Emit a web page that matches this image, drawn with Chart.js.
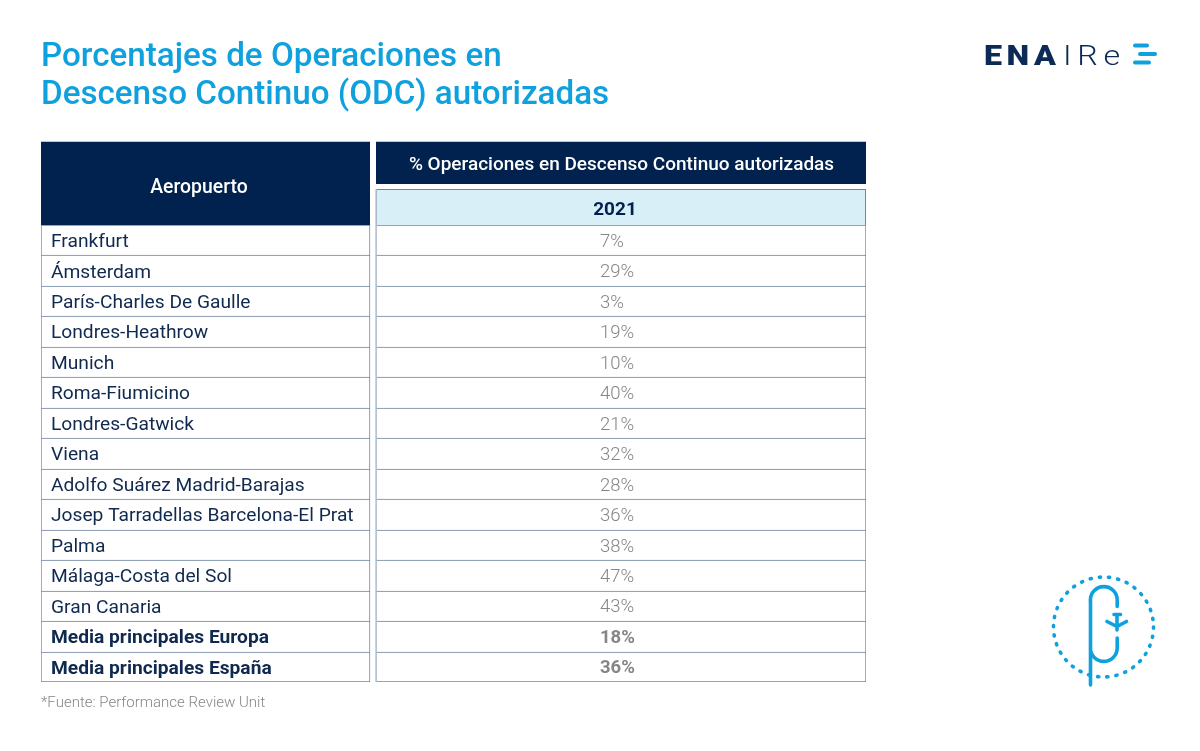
<!DOCTYPE html>
<html lang="es">
<head>
<meta charset="utf-8">
<title>Porcentajes de Operaciones en Descenso Continuo (ODC) autorizadas</title>
<script src="https://cdn.jsdelivr.net/npm/chart.js@4"></script>
<style>html,body{margin:0;padding:0;background:#fff}canvas{display:block}</style>
</head>
<body>
<canvas id="c" width="1200" height="751"></canvas>
<script>
const titleLines = ['Porcentajes de Operaciones en', 'Descenso Continuo (ODC) autorizadas'];
const airports = ['Frankfurt','Ámsterdam','París-Charles De Gaulle','Londres-Heathrow','Munich','Roma-Fiumicino','Londres-Gatwick','Viena','Adolfo Suárez Madrid-Barajas','Josep Tarradellas Barcelona-El Prat','Palma','Málaga-Costa del Sol','Gran Canaria','Media principales Europa','Media principales España'];
const percentages = [7,29,3,19,10,40,21,32,28,36,38,47,43,18,36];
const boldRows = ['Media principales Europa','Media principales España'];
const headerAirport = 'Aeropuerto';
const headerMeasure = '% Operaciones en Descenso Continuo autorizadas';
const headerYear = '2021';
const footnote = '*Fuente: Performance Review Unit';

const FONT = 'Roboto';
const NAVY = '#01224e', BLUE = '#0fa0de', LINE = '#6f86a0', GREY = '#868686';
const COL_A = [0, 329], COL_B = [335, 825];

const decor = {
  id: 'decor',
  afterDatasetsUpdate(chart) {
    // snap cell edges to whole pixels so the rules stay crisp
    chart.data.datasets.forEach((_, d) => chart.getDatasetMeta(d).data.forEach(el => {
      const t = Math.round(el.y - el.height / 2), b = Math.round(el.y + el.height / 2);
      el.y = (t + b) / 2; el.height = b - t;
    }));
  },
  beforeDatasetsDraw(chart) {
    const {ctx, scales:{x}, chartArea:{top}} = chart;
    ctx.save();
    const xa0 = x.getPixelForValue(COL_A[0]), xa1 = x.getPixelForValue(COL_A[1]);
    const xb0 = x.getPixelForValue(COL_B[0]), xb1 = x.getPixelForValue(COL_B[1]);
    ctx.fillStyle = '#bcc8d8';
    ctx.fillRect(xa0, top - 84, xa1 - xa0, 1);
    ctx.fillRect(xb0, top - 84, xb1 - xb0, 1);
    ctx.fillStyle = NAVY;
    ctx.fillRect(xa0, top - 83, xa1 - xa0, 83);
    ctx.fillRect(xb0, top - 83, xb1 - xb0, 42);
    ctx.fillStyle = '#d8eff8';
    ctx.fillRect(xb0, top - 36, xb1 - xb0, 36);
    ctx.strokeStyle = LINE; ctx.lineWidth = 1;
    ctx.strokeRect(xb0 + .5, top - 35.5, xb1 - xb0 - 1, 36);
    ctx.textBaseline = 'middle'; ctx.textAlign = 'center';
    ctx.fillStyle = '#fff';
    ctx.font = '500 19.4px ' + FONT;
    ctx.fillText(headerAirport, x.getPixelForValue(158), top - 37);
    ctx.font = '500 19px ' + FONT;
    ctx.fillText(headerMeasure, x.getPixelForValue(580.5), top - 60);
    ctx.fillStyle = NAVY;
    ctx.font = '700 19px ' + FONT;
    ctx.fillText(headerYear, x.getPixelForValue(574), top - 14.5);
    ctx.restore();
  },
  afterDatasetsDraw(chart) {
    const {ctx, scales:{x, y}, chartArea:{top, bottom}} = chart;
    ctx.save();
    ctx.textBaseline = 'middle'; ctx.textAlign = 'left';
    percentages.forEach((v, i) => {
      const bold = boldRows.includes(airports[i]);
      ctx.fillStyle = GREY;
      ctx.font = (bold ? '700' : '300') + ' 18.5px ' + FONT;
      ctx.fillText(v + '%', x.getPixelForValue(559), y.getPixelForValue(i) + 2);
    });
    // lighter left edge of the value column
    ctx.strokeStyle = '#bcc8d8'; ctx.lineWidth = 1.5;
    const lx = x.getPixelForValue(COL_B[0]);
    ctx.beginPath(); ctx.moveTo(lx, top - 36); ctx.lineTo(lx, bottom); ctx.stroke();
    // footnote
    ctx.fillStyle = GREY;
    ctx.font = '300 15px ' + FONT;
    ctx.fillText(footnote, 41, 703);
    // logo
    ctx.fillStyle = '#0b2a55';
    ctx.textBaseline = 'alphabetic';
    ctx.save();
    ctx.translate(984, 65); ctx.scale(1.15, 1);
    ctx.letterSpacing = '4px';
    ctx.font = '900 28px ' + FONT;
    ctx.fillText('ENA', 0, 0);
    ctx.restore();
    ctx.save();
    ctx.translate(1063, 65); ctx.scale(1.15, 1);
    ctx.letterSpacing = '5px';
    ctx.font = '300 28px ' + FONT;
    ctx.fillText('IRe', 0, 0);
    ctx.restore();
    ctx.strokeStyle = BLUE; ctx.lineCap = 'round'; ctx.lineWidth = 4;
    [[1135,1147,45.5],[1140,1155,54],[1135,1149,62.5]].forEach(([a,b,yy]) => {
      ctx.beginPath(); ctx.moveTo(a,yy); ctx.lineTo(b,yy); ctx.stroke();
    });
    // emblem
    ctx.lineWidth = 3.6;
    ctx.beginPath();
    ctx.setLineDash([1.2, 8.04]);
    ctx.arc(1103.5, 627, 50, 0, Math.PI * 2); ctx.stroke();
    ctx.setLineDash([]);
    ctx.beginPath();
    ctx.moveTo(1090.5, 685); ctx.lineTo(1090.5, 600);
    ctx.arc(1103.8, 600, 13.4, Math.PI, 0);
    ctx.lineTo(1117.2, 606.5);
    ctx.moveTo(1117.2, 638); ctx.lineTo(1117.2, 648);
    ctx.arc(1103.8, 648, 13.4, 0, Math.PI);
    ctx.moveTo(1117, 614.5); ctx.lineTo(1117, 630);
    ctx.moveTo(1114, 614.5); ctx.lineTo(1120.5, 614.5);
    ctx.moveTo(1107, 621.5); ctx.lineTo(1117, 626.5); ctx.lineTo(1126.5, 621.5);
    ctx.stroke();
    ctx.restore();
  }
};

const cellBorder = c => ({top: 1, left: 1, right: 1, bottom: c.dataIndex === airports.length - 1 ? 1 : 0});
const cellStyle = {
  grouped: false, barPercentage: 1, categoryPercentage: 1,
  backgroundColor: '#fff', borderColor: LINE, borderSkipped: false, borderWidth: cellBorder
};
new Chart(document.getElementById('c'), {
  type: 'bar',
  data: {
    labels: airports,
    datasets: [
      {label: headerAirport, data: airports.map(() => COL_A), ...cellStyle},
      {label: headerMeasure, data: percentages.map(() => COL_B), ...cellStyle}
    ]
  },
  options: {
    indexAxis: 'y',
    responsive: false,
    animation: false,
    devicePixelRatio: 1,
    layout: {padding: {left: 41, right: 334, top: 38.5, bottom: 69}},
    scales: {
      x: {type: 'linear', display: false, min: 0, max: 825},
      y: {
        type: 'category', position: 'left',
        grid: {display: false}, border: {display: false},
        afterFit(s) { s.width = 0; },
        ticks: {
          mirror: true, padding: 10, z: 1, autoSkip: false, labelOffset: 2,
          color: '#10294f',
          font: c => ({family: FONT, size: 19.2, weight: boldRows.includes(airports[c.index]) ? '700' : '400'})
        }
      }
    },
    plugins: {
      legend: {display: false},
      tooltip: {enabled: false},
      colors: {enabled: false},
      title: {
        display: true, text: titleLines, align: 'start', color: BLUE,
        font: {family: FONT, size: 33.2, weight: '500', lineHeight: '38px'},
        padding: {top: 0, bottom: 110.5}
      }
    }
  },
  plugins: [decor]
});
</script>
</body>
</html>
